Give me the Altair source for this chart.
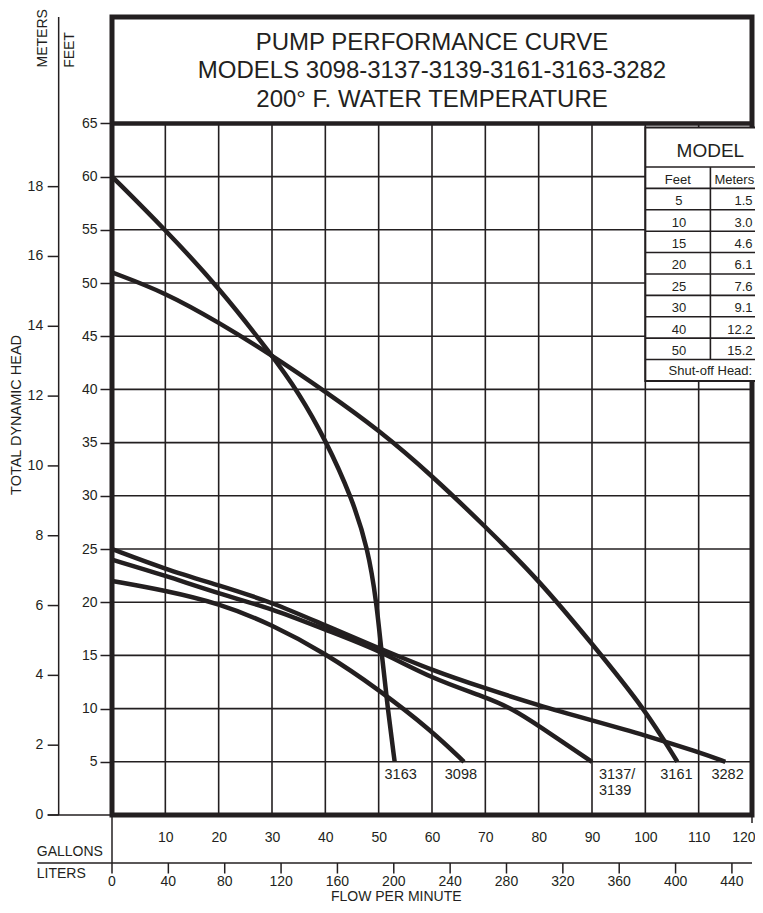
import altair as alt
import pandas as pd

INK = "#231f20"
FONT = "Liberation Sans"

# ---------------- data ----------------
# flow in US gallons per minute, head in feet
m3163_gpm = [0, 10, 20, 30, 35, 40, 45, 48, 49.6, 50.6, 51.7, 53]
m3163_ft = [60, 55, 49.6, 43.2, 39.7, 35.3, 29.8, 25, 20, 15, 10, 5]
m3161_gpm = [0, 10, 20, 30, 40, 50, 60, 70, 80, 90, 100, 106]
m3161_ft = [51, 49.1, 46.3, 43.2, 39.8, 36.2, 31.9, 27.1, 22.1, 16.1, 9.9, 5]
m3282_gpm = [0, 10, 20, 30, 40, 50, 60, 70, 80, 90, 100, 110, 115]
m3282_ft = [25, 23.1, 21.6, 20, 17.8, 15.7, 13.6, 11.9, 10.3, 8.9, 7.5, 5.9, 5]
m3137_gpm = [0, 10, 20, 30, 40, 50, 60, 70, 75, 80, 90]
m3137_ft = [24, 22.5, 20.8, 19.4, 17.4, 15.5, 12.8, 11.1, 10.0, 8.4, 5]
m3098_gpm = [0, 10, 20, 30, 40, 50, 60, 66]
m3098_ft = [22, 21.1, 19.9, 17.9, 15.2, 11.8, 7.9, 5]

curve_names = ["3163", "3161", "3282", "3137", "3098"]
curve_gpm = [m3163_gpm, m3161_gpm, m3282_gpm, m3137_gpm, m3098_gpm]
curve_ft = [m3163_ft, m3161_ft, m3282_ft, m3137_ft, m3098_ft]

label_text = ["3163", "3098", "3137/", "3139", "3161", "3282"]
label_gpm = [51.1, 62.4, 91.3, 91.3, 102.8, 112.4]
label_ft = [3.72, 3.72, 3.72, 2.28, 3.72, 3.72]

gallon_ticks = list(range(10, 121, 10))
feet_ticks = list(range(5, 66, 5))
grid_gpm = list(range(10, 111, 10))
grid_ft = list(range(5, 61, 5))
meter_ticks = list(range(0, 19, 2))
liter_ticks = list(range(0, 441, 40))

title_lines = ["PUMP PERFORMANCE CURVE",
               "MODELS 3098-3137-3139-3161-3163-3282",
               "200\u00b0 F. WATER TEMPERATURE"]

table_feet = ["5", "10", "15", "20", "25", "30", "40", "50"]
table_meters = ["1.5", "3.0", "4.6", "6.1", "7.6", "9.1", "12.2", "15.2"]

FT_PER_M = 3.28084
L_PER_GAL = 3.78541

# ---------------- scales and axes (same objects in every layer) ----------------
XS = alt.Scale(domain=[0, 120], nice=False, zero=False)
YS = alt.Scale(domain=[0, 75], nice=False, zero=False)
AXX = alt.Axis(values=gallon_ticks, ticks=False, tickSize=0, domain=False, grid=False, labelPadding=15,
               labelFontSize=14, labelFont=FONT, labelColor=INK, labelFlush=True, labelFlushOffset=3,
               labelOverlap=False, title=None)
AXY = alt.Axis(values=feet_ticks, tickSize=12, tickColor=INK, tickWidth=1.5, domain=False, grid=False,
               labelPadding=3, labelFontSize=14, labelFont=FONT, labelColor=INK, labelFlush=False,
               labelOverlap=False, title=None)


def X(f):
    return alt.X(f"{f}:Q", scale=XS, axis=AXX)


def Y(f):
    return alt.Y(f"{f}:Q", scale=YS, axis=AXY)


def rules(df, x, y, x2=None, y2=None, width=1.6):
    enc = dict(x=X(x), y=Y(y))
    if x2:
        enc["x2"] = alt.X2(f"{x2}:Q")
    if y2:
        enc["y2"] = alt.Y2(f"{y2}:Q")
    return alt.Chart(df).mark_rule(color=INK, strokeWidth=width).encode(**enc)


def texts(df, size, align="center", angle=0, baseline="middle"):
    kw = dict(font=FONT, color=INK, fontSize=size, align=align, baseline=baseline)
    if angle:
        kw["angle"] = angle
    return alt.Chart(df).mark_text(**kw).encode(x=X("x"), y=Y("y"), text="t:N")


layers = []

# grid
layers.append(rules(pd.DataFrame({"x": grid_gpm, "y": 0, "y2": 65}), "x", "y", y2="y2"))
layers.append(rules(pd.DataFrame({"y": grid_ft, "x": 0, "x2": 120}), "x", "y", x2="x2"))

# frame + title separator
frame = pd.DataFrame({"x": [0], "x2": [120], "y": [0], "y2": [75]})
layers.append(alt.Chart(frame).mark_rect(fillOpacity=0, stroke=INK, strokeWidth=5).encode(
    x=X("x"), x2="x2:Q", y=Y("y"), y2="y2:Q"))
layers.append(rules(pd.DataFrame({"x": [0], "x2": [120], "y": [65]}), "x", "y", x2="x2", width=4.5))

# curves
rows = []
for name, gx, fy in zip(curve_names, curve_gpm, curve_ft):
    for i, (a, b) in enumerate(zip(gx, fy)):
        rows.append({"model": name, "i": i, "gpm": a, "ft": b})
curves = pd.DataFrame(rows)
layers.append(alt.Chart(curves).mark_line(color=INK, strokeWidth=4.5, interpolate="basis").encode(
    x=X("gpm"), y=Y("ft"), detail="model:N", order="i:Q"))

# curve labels
layers.append(texts(pd.DataFrame({"x": label_gpm, "y": label_ft, "t": label_text}), 14.5, align="left"))

# meters axis
layers.append(rules(pd.DataFrame({"x": [-10], "y": [0], "y2": [75]}), "x", "y", y2="y2", width=1.5))
mt = pd.DataFrame({"m": meter_ticks})
layers.append(alt.Chart(mt).transform_calculate(y=f"datum.m * {FT_PER_M}", x="-12.06", x2="-10")
              .mark_rule(color=INK, strokeWidth=1.5).encode(x=X("x"), x2="x2:Q", y=Y("y")))
layers.append(alt.Chart(mt).transform_calculate(y=f"datum.m * {FT_PER_M}", x="-12.9", t="'' + datum.m")
              .mark_text(font=FONT, color=INK, fontSize=14, align="right", baseline="middle")
              .encode(x=X("x"), y=Y("y"), text="t:N"))
layers.append(rules(pd.DataFrame({"x": [-12.06], "x2": [0], "y": [0]}), "x", "y", x2="x2", width=1.5))
layers.append(texts(pd.DataFrame({"x": [-13.0], "y": [73.0], "t": ["METERS"]}), 14, angle=270))
layers.append(texts(pd.DataFrame({"x": [-7.8], "y": [71.9], "t": ["FEET"]}), 14, angle=270))
layers.append(texts(pd.DataFrame({"x": [-17.9], "y": [37.6], "t": ["TOTAL DYNAMIC HEAD"]}), 14.5, angle=270))

# liters axis
layers.append(rules(pd.DataFrame({"x": [-14.0], "x2": [120], "y": [-4.51]}), "x", "y", x2="x2", width=1.5))
layers.append(rules(pd.DataFrame({"x": [0], "y": [0], "y2": [-4.51]}), "x", "y", y2="y2", width=1.5))
layers.append(rules(pd.DataFrame({"x": [120], "y": [0], "y2": [-0.75]}), "x", "y", y2="y2", width=1.5))
lt = pd.DataFrame({"l": liter_ticks})
layers.append(alt.Chart(lt).transform_calculate(x=f"datum.l / {L_PER_GAL}", y="-4.51", y2="-5.5")
              .mark_rule(color=INK, strokeWidth=1.5).encode(x=X("x"), y=Y("y"), y2="y2:Q"))
layers.append(alt.Chart(lt).transform_calculate(x=f"datum.l / {L_PER_GAL}", y="-6.3", t="'' + datum.l")
              .mark_text(font=FONT, color=INK, fontSize=14, align="center", baseline="middle")
              .encode(x=X("x"), y=Y("y"), text="t:N"))
layers.append(texts(pd.DataFrame({"x": [-14.1, -14.1], "y": [-3.52, -5.54], "t": ["GALLONS", "LITERS"]}),
                    14, align="left"))
layers.append(texts(pd.DataFrame({"x": [53.3], "y": [-7.75], "t": ["FLOW PER MINUTE"]}), 14))

# title
layers.append(texts(pd.DataFrame({"x": [60, 60, 60], "y": [72.56, 69.89, 67.16], "t": title_lines}), 24))

# model table
T_L, T_D, T_R = 100, 112.2, 124.6
T_TOP, B0, ROW = 64.62, 60.90, 2.01
bounds = [B0 - ROW * k for k in range(11)]
layers.append(alt.Chart(pd.DataFrame({"x": [T_L], "x2": [T_R], "y": [bounds[10]], "y2": [T_TOP]}))
              .mark_rect(fill="white", stroke=INK, strokeWidth=2).encode(x=X("x"), x2="x2:Q", y=Y("y"), y2="y2:Q"))
layers.append(rules(pd.DataFrame({"y": bounds[:10], "x": T_L, "x2": T_R}), "x", "y", x2="x2", width=1.6))
layers.append(rules(pd.DataFrame({"x": [T_D], "y": [bounds[9]], "y2": [B0]}), "x", "y", y2="y2", width=1.6))
layers.append(texts(pd.DataFrame({"x": [T_D], "y": [62.45], "t": ["MODEL"]}), 19))
hdr_y = B0 - ROW * 0.5 - 0.2
layers.append(texts(pd.DataFrame({"x": [106.1], "y": [hdr_y], "t": ["Feet"]}), 13))
layers.append(texts(pd.DataFrame({"x": [120.4], "y": [hdr_y], "t": ["Meters"]}), 13, align="right"))
centers = [B0 - ROW * (i + 1.5) - 0.2 for i in range(8)]
layers.append(texts(pd.DataFrame({"x": 106.3, "y": centers, "t": table_feet}), 13))
layers.append(texts(pd.DataFrame({"x": 120.1, "y": centers, "t": table_meters}), 13, align="right"))
layers.append(texts(pd.DataFrame({"x": [T_D], "y": [B0 - ROW * 9.5 - 0.1], "t": ["Shut-off Head:"]}), 13))

chart = alt.layer(*layers).properties(
    width=640, height=798,
    autosize=alt.AutoSizeParams(type="none"),
    padding={"left": 104, "top": 9, "right": 3, "bottom": 89},
    background="white",
).configure_view(stroke=None)

chart.save("out.html", embed_options={"renderer": "svg", "actions": False})
